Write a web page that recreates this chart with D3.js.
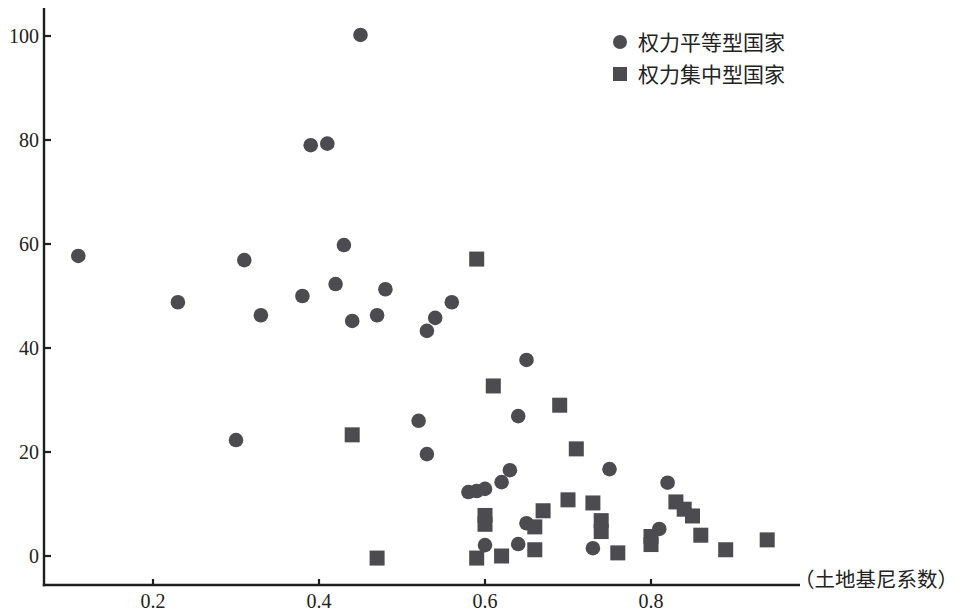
<!DOCTYPE html>
<html>
<head>
<meta charset="utf-8">
<script src="https://cdn.jsdelivr.net/npm/d3@7"></script>
<style>
  html, body { margin: 0; padding: 0; background: #fff; }
  svg { display: block; }
  .tick-label { font-family: "Liberation Serif", "DejaVu Serif", serif; font-size: 20px; fill: #222; }
  .cjk { font-family: "Noto Sans CJK SC", sans-serif; font-size: 20px; fill: #222; }
</style>
</head>
<body>
<svg id="chart" width="963" height="611"></svg>
<script>
// 权力平等型国家 (circles)
const equalX = [0.11, 0.23, 0.30, 0.31, 0.33, 0.38, 0.39, 0.41, 0.42, 0.43, 0.44, 0.45, 0.47, 0.48,
  0.52, 0.53, 0.53, 0.54, 0.56, 0.58, 0.59, 0.60, 0.62, 0.63, 0.64, 0.65, 0.60, 0.64, 0.65, 0.73,
  0.75, 0.81, 0.82];
const equalY = [57.7, 48.8, 22.3, 56.9, 46.3, 50.0, 79.0, 79.3, 52.3, 59.8, 45.2, 100.2, 46.3, 51.3,
  26.0, 43.3, 19.6, 45.8, 48.8, 12.3, 12.5, 12.9, 14.2, 16.5, 26.9, 37.7, 2.1, 2.3, 6.3, 1.5,
  16.7, 5.2, 14.1];

// 权力集中型国家 (squares)
const centralX = [0.44, 0.47, 0.59, 0.61, 0.60, 0.60, 0.59, 0.62, 0.67, 0.66, 0.66, 0.69, 0.71,
  0.70, 0.73, 0.74, 0.74, 0.76, 0.80, 0.80, 0.83, 0.84, 0.85, 0.86, 0.89, 0.94];
const centralY = [23.3, -0.4, 57.1, 32.7, 7.8, 6.1, -0.4, 0.0, 8.7, 5.6, 1.2, 29.0, 20.6,
  10.8, 10.2, 6.8, 4.7, 0.6, 3.75, 2.2, 10.4, 9.0, 7.7, 4.0, 1.2, 3.1];

const xTicks = [0.2, 0.4, 0.6, 0.8];
const yTicks = [0, 20, 40, 60, 80, 100];
const legendLabels = ["权力平等型国家", "权力集中型国家"];
const xTitle = "（土地基尼系数）";

const svg = d3.select("#chart");
const markColor = "#4b4b50";
const axisColor = "#1e1e1e";

const axLeft = 44, axRight = 800, axTop = 8, axBottom = 585;

const x = d3.scaleLinear().domain([0.2, 0.8]).range([153, 651]);
const y = d3.scaleLinear().domain([0, 100]).range([556, 36]);

// axes lines
svg.append("line")
  .attr("x1", axLeft).attr("x2", axLeft).attr("y1", axTop).attr("y2", axBottom + 1.2)
  .attr("stroke", axisColor).attr("stroke-width", 2.4);
svg.append("line")
  .attr("x1", axLeft - 1.2).attr("x2", axRight).attr("y1", axBottom).attr("y2", axBottom)
  .attr("stroke", axisColor).attr("stroke-width", 2.4);

// y ticks
const yt = svg.append("g");
yt.selectAll("line").data(yTicks).join("line")
  .attr("x1", axLeft).attr("x2", axLeft + 7)
  .attr("y1", d => y(d)).attr("y2", d => y(d))
  .attr("stroke", axisColor).attr("stroke-width", 2.2);
yt.selectAll("text").data(yTicks).join("text")
  .attr("class", "tick-label")
  .attr("x", axLeft - 5).attr("y", d => y(d))
  .attr("dy", "0.35em")
  .attr("text-anchor", "end")
  .text(d => d);

// x ticks
const xt = svg.append("g");
xt.selectAll("line").data(xTicks).join("line")
  .attr("x1", d => x(d)).attr("x2", d => x(d))
  .attr("y1", axBottom).attr("y2", axBottom - 6)
  .attr("stroke", axisColor).attr("stroke-width", 2.2);
xt.selectAll("text").data(xTicks).join("text")
  .attr("class", "tick-label")
  .attr("x", d => x(d)).attr("y", 608)
  .attr("text-anchor", "middle")
  .text(d => d3.format(".1f")(d));

svg.append("text")
  .attr("class", "cjk")
  .attr("x", 794).attr("y", 587)
  .style("font-size", "20.5px")
  .text(xTitle);

// points
const equal = equalX.map((v, i) => ({ x: v, y: equalY[i] }));
const central = centralX.map((v, i) => ({ x: v, y: centralY[i] }));

svg.append("g").selectAll("circle").data(equal).join("circle")
  .attr("cx", d => x(d.x)).attr("cy", d => y(d.y))
  .attr("r", 7.3)
  .attr("fill", markColor);

const s = 15;
svg.append("g").selectAll("rect").data(central).join("rect")
  .attr("x", d => x(d.x) - s / 2).attr("y", d => y(d.y) - s / 2)
  .attr("width", s).attr("height", s)
  .attr("fill", markColor);

// legend
const lg = svg.append("g");
lg.append("circle").attr("cx", 620).attr("cy", 42).attr("r", 7).attr("fill", markColor);
lg.append("rect").attr("x", 613).attr("y", 67).attr("width", 14).attr("height", 14).attr("fill", markColor);
lg.selectAll("text").data(legendLabels).join("text")
  .attr("class", "cjk")
  .attr("x", 638)
  .attr("y", (d, i) => 42 + i * 32)
  .attr("dy", "0.36em")
  .style("font-size", "21px")
  .text(d => d);
</script>
</body>
</html>
